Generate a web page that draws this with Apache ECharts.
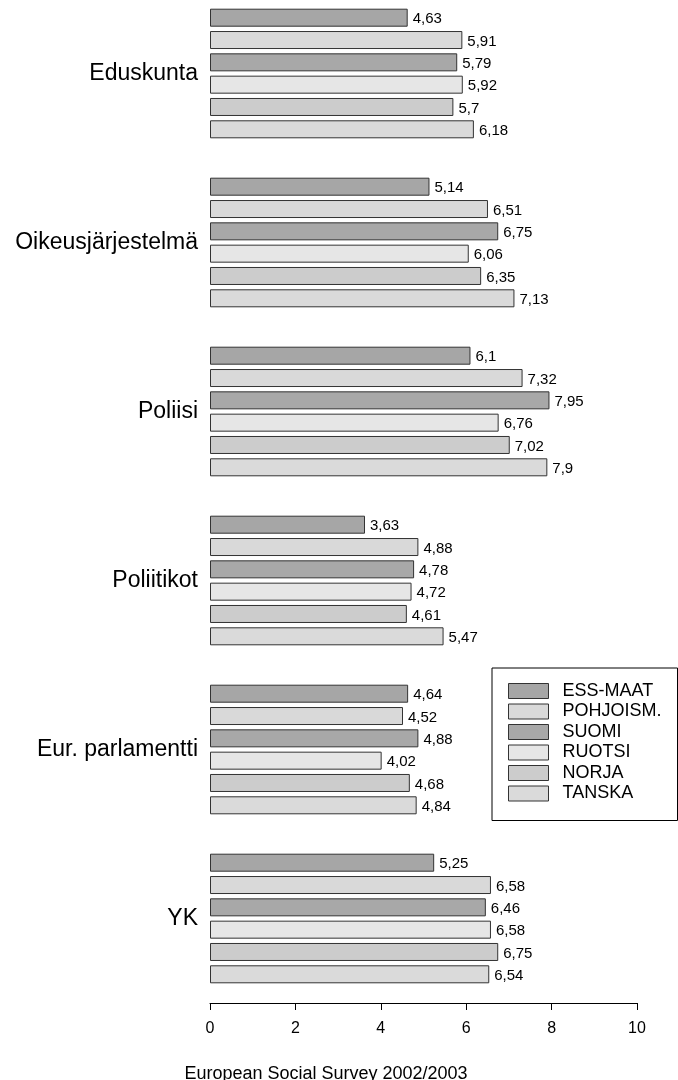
<!DOCTYPE html>
<html>
<head>
<meta charset="utf-8">
<script src="https://cdn.jsdelivr.net/npm/echarts@6/dist/echarts.min.js"></script>
<style>
html,body{margin:0;padding:0;background:#fff;overflow:hidden;}
#chart{position:absolute;left:0;top:-11px;width:678px;height:1091px;}
</style>
</head>
<body>
<div id="chart"></div>
<script>
const categories = ['Eduskunta', 'Oikeusjärjestelmä', 'Poliisi', 'Poliitikot', 'Eur. parlamentti', 'YK'];
const seriesNames = ['ESS-MAAT', 'POHJOISM.', 'SUOMI', 'RUOTSI', 'NORJA', 'TANSKA'];
const essMaat  = [4.63, 5.14, 6.10, 3.63, 4.64, 5.25];
const pohjoism = [5.91, 6.51, 7.32, 4.88, 4.52, 6.58];
const suomi    = [5.79, 6.75, 7.95, 4.78, 4.88, 6.46];
const ruotsi   = [5.92, 6.06, 6.76, 4.72, 4.02, 6.58];
const norja    = [5.70, 6.35, 7.02, 4.61, 4.68, 6.75];
const tanska   = [6.18, 7.13, 7.90, 5.47, 4.84, 6.54];
const xTicks = [0, 2, 4, 6, 8, 10];
const title = 'European Social Survey 2002/2003';

const allValues = [essMaat, pohjoism, suomi, ruotsi, norja, tanska];
const colors = ['#a6a6a6', '#d9d9d9', '#a8a8a8', '#e6e6e6', '#cccccc', '#dadada'];
const FONT = 'Liberation Sans, Arial, sans-serif';
const SHIFT = 11;

const chart = echarts.init(document.getElementById('chart'), null, {renderer: 'canvas'});
const series = seriesNames.map((name, i) => ({
  name: name,
  type: 'bar',
  data: allValues[i],
  barWidth: 18,
  barGap: '24%',
  itemStyle: {color: colors[i], borderColor: '#333', borderWidth: 1},
  label: {
    show: true,
    position: 'right',
    distance: 5,
    offset: [0, 1.5],
    color: '#000',
    fontFamily: FONT,
    fontSize: 15,
    formatter: p => String(p.value).replace('.', ',')
  },
  animation: false
}));

chart.setOption({
  animation: false,
  title: {
    text: title,
    left: 321,
    textAlign: 'center',
    top: 1060 + SHIFT,
    textStyle: {fontFamily: FONT, fontSize: 18, fontWeight: 'normal', color: '#000'}
  },
  legend: {
    orient: 'vertical',
    left: 492,
    top: 668 + SHIFT,
    padding: [14, 16, 18, 16],
    borderColor: '#000',
    borderWidth: 1,
    itemWidth: 40,
    itemHeight: 15,
    itemGap: 2.5,
    icon: 'rect',
    itemStyle: {borderColor: '#333', borderWidth: 1},
    textStyle: {fontFamily: FONT, fontSize: 18, lineHeight: 18, color: '#000', padding: [0, 0, 0, 9]},
    data: seriesNames
  },
  grid: {left: 210, right: 41, top: 0, height: 1014, containLabel: false},
  xAxis: {
    type: 'value',
    min: xTicks[0],
    max: xTicks[xTicks.length - 1],
    interval: 2,
    axisLine: {show: true, lineStyle: {color: '#000', width: 1}},
    axisTick: {show: true, length: 7, lineStyle: {color: '#000'}},
    axisLabel: {fontFamily: FONT, fontSize: 16, color: '#000', margin: 18},
    splitLine: {show: false}
  },
  yAxis: {
    type: 'category',
    data: categories,
    inverse: true,
    axisLine: {show: false},
    axisTick: {show: false},
    axisLabel: {fontFamily: FONT, fontSize: 23, color: '#000', margin: 12}
  },
  series: series
});
</script>
</body>
</html>
